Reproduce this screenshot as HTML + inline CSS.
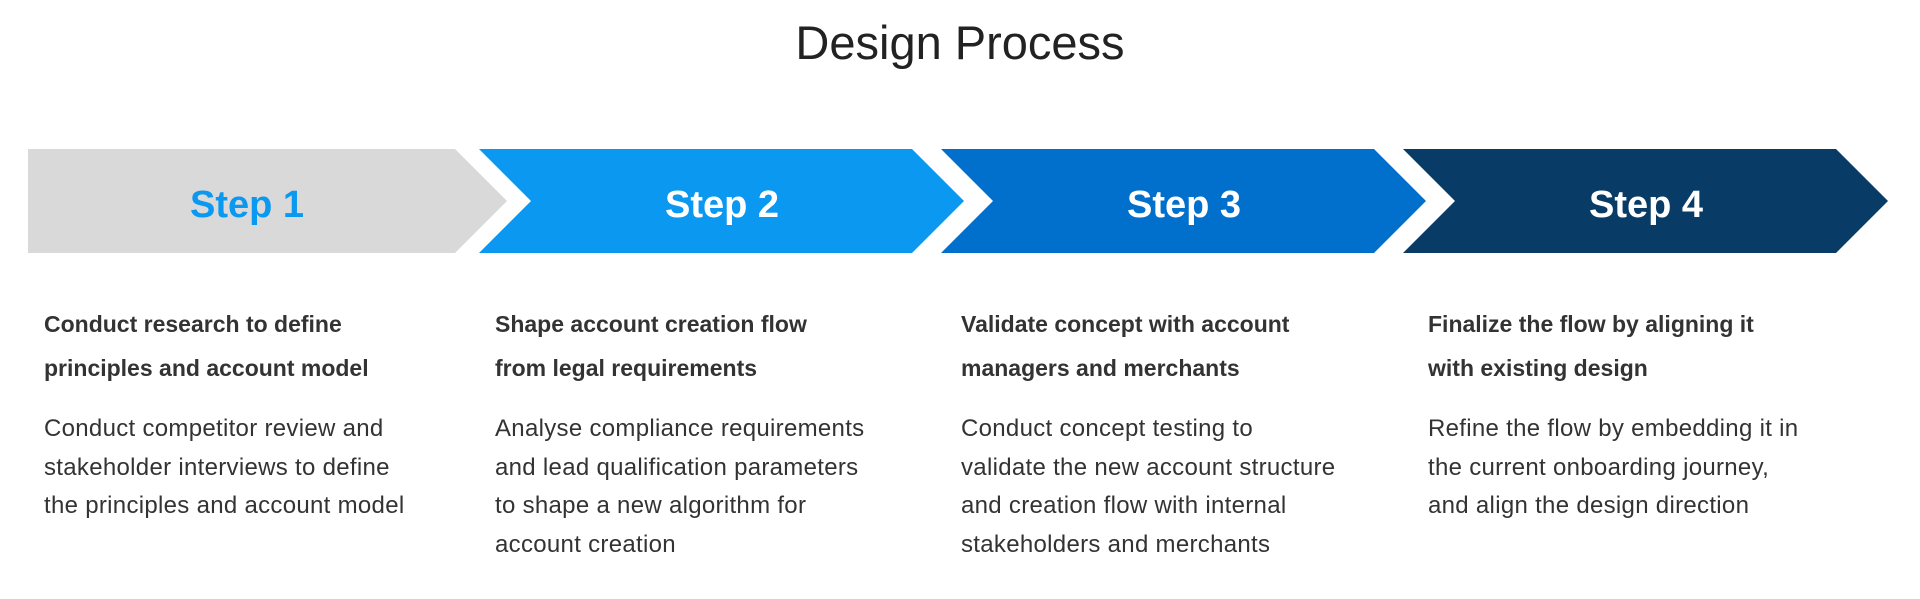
<!DOCTYPE html>
<html><head><meta charset="utf-8"><style>
html,body{margin:0;padding:0;background:#fff;}
body{width:1920px;height:599px;position:relative;overflow:hidden;font-family:"Liberation Sans",sans-serif;}
.t{position:absolute;white-space:nowrap;}
.title{left:0;width:1920px;text-align:center;top:15px;font-size:47px;color:#222;}
.step{font-size:38px;font-weight:bold;color:#fff;text-align:center;width:440px;top:184px;}
.h{font-size:23px;font-weight:bold;color:#333;line-height:44px;}
.b{font-size:24px;color:#333;line-height:38.5px;letter-spacing:0.3px;}
</style></head><body>
<div class="t title">Design Process</div>
<svg width="1920" height="599" style="position:absolute;left:0;top:0">
<polygon points="28,149 455,149 507,201 455,253 28,253" fill="#d9d9d9"/>
<polygon points="479,149 912,149 964,201 912,253 479,253 531,201" fill="#0a98f0"/>
<polygon points="941,149 1374,149 1426,201 1374,253 941,253 993,201" fill="#0070cc"/>
<polygon points="1403,149 1836,149 1888,201 1836,253 1403,253 1455,201" fill="#083b66"/>
</svg>
<div class="t step" style="left:27px;color:#0a98f0">Step 1</div>
<div class="t step" style="left:502px">Step 2</div>
<div class="t step" style="left:964px">Step 3</div>
<div class="t step" style="left:1426px">Step 4</div>

<div class="t h" style="left:44px;top:302px">Conduct research to define<br>principles and account model</div>
<div class="t b" style="left:44px;top:410px">Conduct competitor review and<br>stakeholder interviews to define<br>the principles and account model</div>

<div class="t h" style="left:495px;top:302px">Shape account creation flow<br>from legal requirements</div>
<div class="t b" style="left:495px;top:410px">Analyse compliance requirements<br>and lead qualification parameters<br>to shape a new algorithm for<br>account creation</div>

<div class="t h" style="left:961px;top:302px">Validate concept with account<br>managers and merchants</div>
<div class="t b" style="left:961px;top:410px">Conduct concept testing to<br>validate the new account structure<br>and creation flow with internal<br>stakeholders and merchants</div>

<div class="t h" style="left:1428px;top:302px">Finalize the flow by aligning it<br>with existing design</div>
<div class="t b" style="left:1428px;top:410px">Refine the flow by embedding it in<br>the current onboarding journey,<br>and align the design direction</div>
</body></html>
